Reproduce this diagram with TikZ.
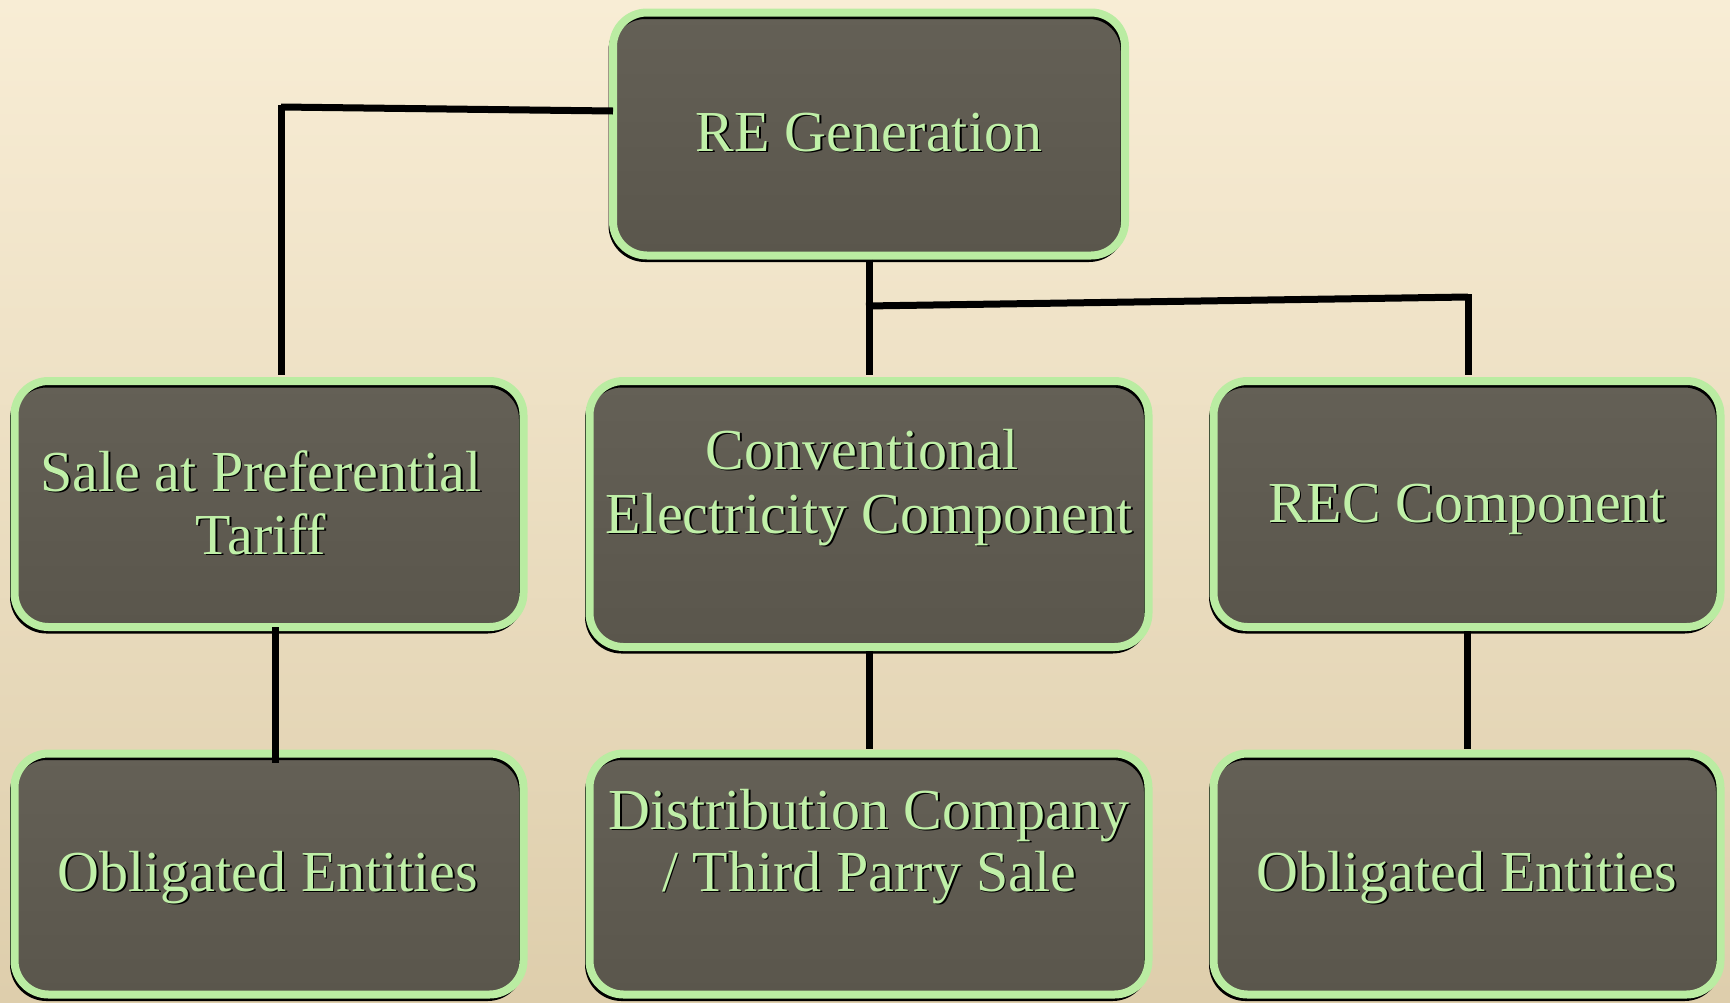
\documentclass[tikz,border=0pt]{standalone}
\usepackage{fontspec}
\setmainfont{Liberation Serif}
\definecolor{bgtop}{RGB}{248,237,213}
\definecolor{bgbot}{RGB}{222,206,172}
\definecolor{boxtop}{RGB}{100,96,86}
\definecolor{boxbot}{RGB}{90,86,76}
\definecolor{edge}{RGB}{186,236,162}
\definecolor{txt}{RGB}{192,240,168}
\tikzset{
 box/.style={rectangle, rounded corners=34pt, inner sep=0pt, outer sep=0pt,
   preaction={top color=boxtop, bottom color=boxbot},
   preaction={draw=black, line width=5pt, transform canvas={shift={(-2pt,-4pt)}}},
   draw=edge, line width=8pt},
 lbl/.style={font=\fontsize{58}{66}\selectfont, anchor=base, inner sep=0pt, text=txt},
 conn/.style={draw=black, line width=7pt}
}
\newcommand{\shlabel}[3]{%
  \node[lbl, text=black] (#1s) at ([xshift=1.8pt,yshift=-1.8pt]#2) {#3};
  \node[lbl] (#1) at (#2) {#3};}
\begin{document}
\begin{tikzpicture}[x=1pt,y=-1pt]
\useasboundingbox (0,0) rectangle (1730,1002);
\fill[top color=bgtop, bottom color=bgbot] (0,0) rectangle (1730,1002);

\coordinate (k1) at (281,107);
\coordinate (k2) at (869,306);
\coordinate (k3) at (1468,297);

% boxes
\node[box, minimum width=512pt, minimum height=243pt] (top) at (869,134) {};
\node[box, minimum width=509pt, minimum height=246pt] (sale) at (269,504) {};
\node[box, minimum width=559pt, minimum height=266pt] (conv) at (869,514) {};
\node[box, minimum width=507pt, minimum height=246pt] (rec) at (1467,504) {};
\node[box, minimum width=509pt, minimum height=241pt] (obl1) at (269,874) {};
\node[box, minimum width=559pt, minimum height=241pt] (dist) at (869,874) {};
\node[box, minimum width=507pt, minimum height=241pt] (obl2) at (1467,874) {};

% connectors
\draw[conn] ([yshift=23pt]top.west) -- (k1);
\draw[conn] ([yshift=2pt]k1) -- ([yshift=6pt]k1 |- sale.north);
\draw[conn] ([yshift=-4pt]top.south) -- ([yshift=6pt]conv.north);
\draw[conn] ([xshift=-3pt]k2) -- (k3);
\draw[conn] ([yshift=3pt]k3) -- ([xshift=1pt,yshift=6pt]rec.north);
\draw[conn] ([xshift=6pt]sale.south) -- ([xshift=6pt,yshift=-9pt]obl1.north);
\draw[conn] ([yshift=-4pt]conv.south) -- ([yshift=5pt]dist.north);
\draw[conn] ([yshift=-4pt]rec.south) -- ([yshift=5pt]obl2.north);

% labels
\shlabel{t1}{869,151}{RE Generation}
\shlabel{t2}{261,491}{Sale at Preferential}
\shlabel{t3}{261,554}{Tariff}
\shlabel{t4}{862,469}{Conventional}
\shlabel{t5}{869,533}{Electricity Component}
\shlabel{t6}{1467,522}{REC Component}
\shlabel{t7}{268,891}{Obligated Entities}
\shlabel{t8}{869,829}{Distribution Company}
\shlabel{t9}{869,891}{/ Third Parry Sale}
\shlabel{t10}{1467,891}{Obligated Entities}
\end{tikzpicture}
\end{document}
